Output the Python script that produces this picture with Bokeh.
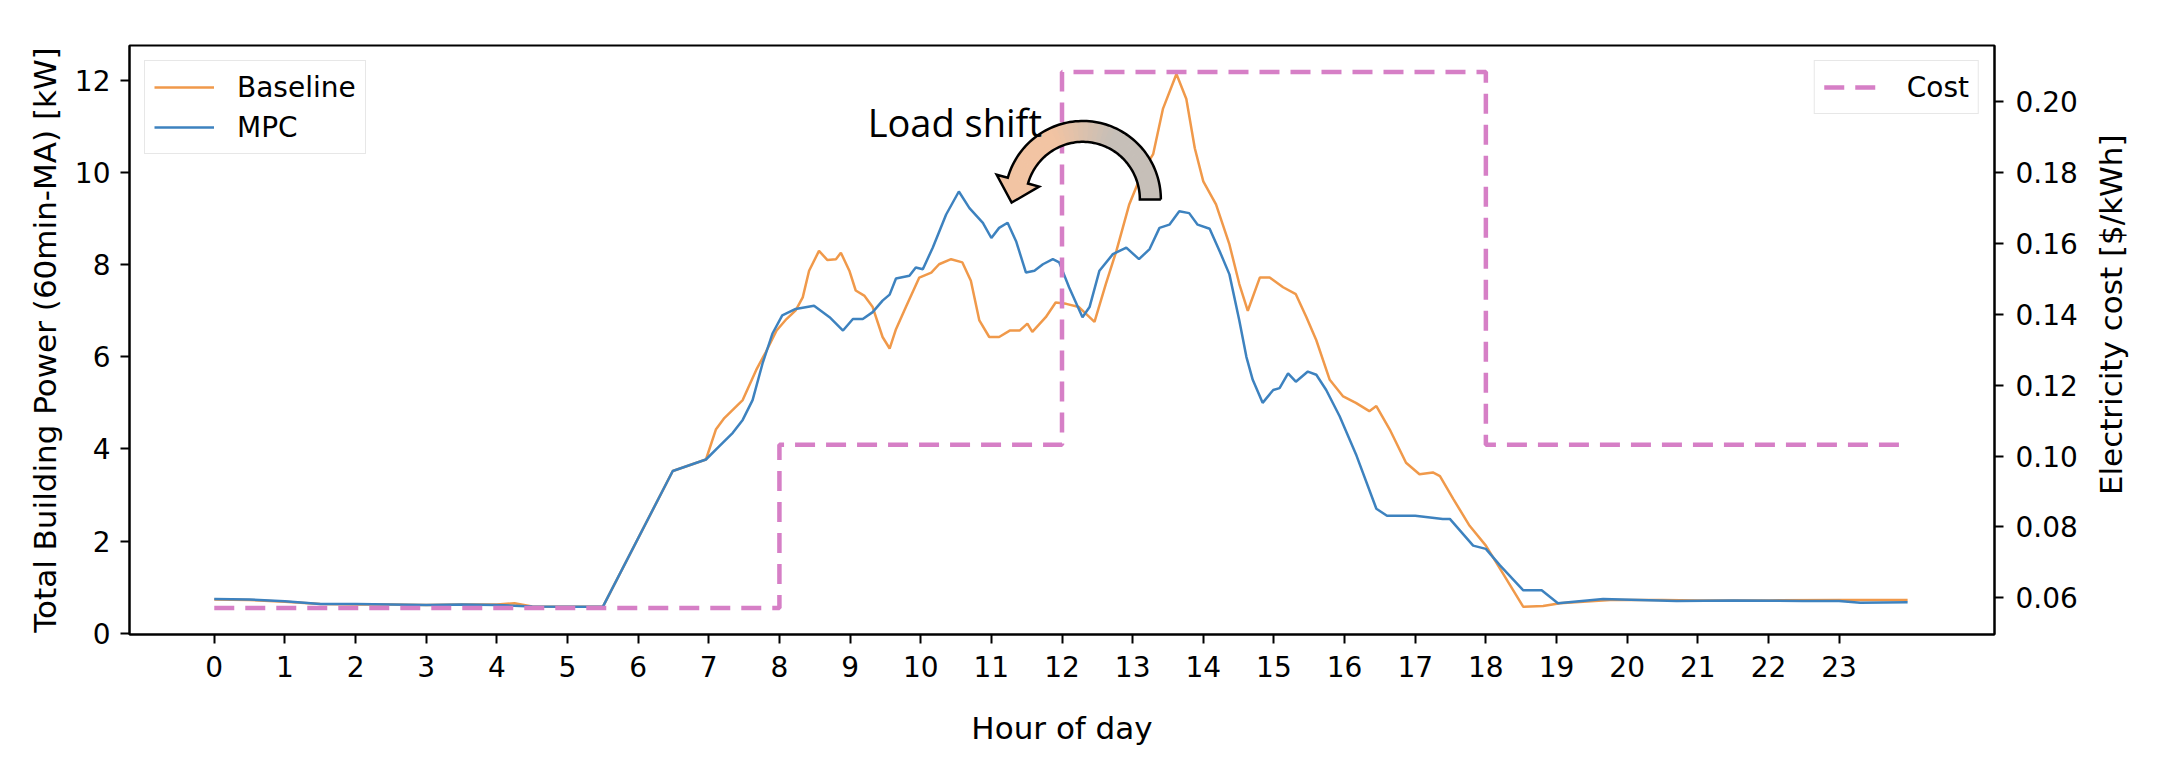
import math
import numpy as np
from bokeh.plotting import figure
from bokeh.layouts import row
from bokeh.models import (Range1d, LinearAxis, Legend, LegendItem, Label,
                          FixedTicker, NumeralTickFormatter)
from bokeh.embed import file_html
from bokeh.resources import INLINE

# ---------------- data ----------------
hours_baseline = [0.0, 0.5, 1.0, 1.5, 2.0, 2.5, 3.0, 3.5, 4.0, 4.25, 4.5, 5.0, 5.5,
                  6.49, 6.96, 7.10, 7.22, 7.48, 7.67, 7.81, 7.96, 8.10, 8.23, 8.33,
                  8.42, 8.56, 8.68, 8.80, 8.87, 8.99, 9.08, 9.20, 9.32, 9.46, 9.56,
                  9.65, 9.79, 9.98, 10.15, 10.26, 10.43, 10.59, 10.71, 10.83, 10.97,
                  11.11, 11.26, 11.40, 11.51, 11.58, 11.77, 11.91, 12.06, 12.24, 12.46,
                  12.62, 12.77, 12.95, 13.14, 13.29, 13.43, 13.62, 13.76, 13.88, 14.00,
                  14.18, 14.37, 14.51, 14.63, 14.80, 14.94, 15.13, 15.31, 15.46, 15.60,
                  15.79, 15.98, 16.16, 16.35, 16.45, 16.64, 16.87, 17.06, 17.25, 17.35,
                  17.54, 17.77, 18.00, 18.20, 18.53, 18.81, 19.05, 19.76, 20.5, 21.0,
                  22.0, 23.0, 23.97]
kw_baseline = [0.73, 0.72, 0.68, 0.63, 0.62, 0.62, 0.61, 0.62, 0.62, 0.65, 0.58, 0.57, 0.57,
               3.52, 3.77, 4.42, 4.67, 5.06, 5.71, 6.11, 6.57, 6.82, 7.01, 7.29,
               7.87, 8.30, 8.10, 8.12, 8.26, 7.87, 7.44, 7.33, 7.08, 6.43, 6.18,
               6.60, 7.08, 7.72, 7.83, 8.01, 8.12, 8.05, 7.65, 6.79, 6.43,
               6.43, 6.57, 6.57, 6.72, 6.54, 6.86, 7.18, 7.15, 7.08, 6.76,
               7.58, 8.30, 9.30, 10.02, 10.40, 11.39, 12.14, 11.60, 10.53, 9.81,
               9.31, 8.44, 7.58, 7.00, 7.72, 7.72, 7.51, 7.36, 6.86, 6.36,
               5.50, 5.14, 5.00, 4.82, 4.93, 4.42, 3.70, 3.45, 3.49, 3.41,
               2.91, 2.33, 1.90, 1.40, 0.57, 0.59, 0.65, 0.72, 0.72, 0.71,
               0.71, 0.72, 0.72]

hours_mpc = [0.0, 0.5, 1.0, 1.5, 2.0, 2.5, 3.0, 3.5, 4.0, 4.5, 5.0, 5.5,
             6.49, 6.96, 7.15, 7.34, 7.48, 7.62, 7.76, 7.90, 8.04, 8.23, 8.49,
             8.71, 8.90, 9.04, 9.18, 9.32, 9.46, 9.56, 9.65, 9.84, 9.93, 10.03,
             10.17, 10.36, 10.54, 10.69, 10.88, 11.00, 11.11, 11.23, 11.35, 11.49,
             11.61, 11.73, 11.87, 11.96, 12.10, 12.29, 12.39, 12.53, 12.72, 12.91,
             13.09, 13.24, 13.38, 13.52, 13.66, 13.80, 13.92, 14.09, 14.23, 14.37,
             14.51, 14.61, 14.70, 14.84, 14.99, 15.08, 15.20, 15.31, 15.48, 15.60,
             15.74, 15.93, 16.17, 16.45, 16.60, 17.00, 17.39, 17.49, 17.82, 18.00,
             18.20, 18.53, 18.79, 19.02, 19.66, 20.7, 21.5, 22.49, 23.0, 23.3, 23.97]
kw_mpc = [0.74, 0.73, 0.69, 0.63, 0.63, 0.62, 0.61, 0.62, 0.61, 0.58, 0.57, 0.57,
          3.52, 3.77, 4.06, 4.35, 4.63, 5.06, 5.85, 6.50, 6.90, 7.04, 7.11,
          6.86, 6.57, 6.82, 6.82, 6.97, 7.22, 7.35, 7.70, 7.76, 7.94, 7.90,
          8.37, 9.09, 9.59, 9.23, 8.91, 8.58, 8.80, 8.91, 8.51, 7.83,
          7.87, 8.01, 8.12, 8.05, 7.51, 6.86, 7.08, 7.87, 8.23, 8.37,
          8.12, 8.34, 8.80, 8.87, 9.16, 9.12, 8.87, 8.78, 8.30, 7.79,
          6.79, 6.00, 5.50, 5.00, 5.28, 5.32, 5.64, 5.46, 5.68, 5.61,
          5.28, 4.71, 3.85, 2.70, 2.55, 2.55, 2.48, 2.48, 1.90, 1.83,
          1.47, 0.93, 0.93, 0.65, 0.74, 0.70, 0.71, 0.70, 0.70, 0.66, 0.67]

cost_hours = [0, 8, 12, 18, 23.95]
cost_rate = [0.0572, 0.1032, 0.2082, 0.1032, 0.1032]

hour_ticks = list(range(24))
kw_ticks = [0, 2, 4, 6, 8, 10, 12]
rate_ticks = [0.06, 0.08, 0.10, 0.12, 0.14, 0.16, 0.18, 0.20]

# ---------------- main figure ----------------
FONT = "DejaVu Sans"
W, H = 2090, 748
p = figure(width=W, height=H, output_backend="svg", toolbar_location=None, title=None,
           x_range=Range1d(-1.2, 25.2), y_range=Range1d(-0.03, 12.76),
           min_border_left=129, min_border_right=96, min_border_top=45,
           min_border_bottom=108)
p.extra_y_ranges = {"cost": Range1d(0.0497, 0.2157)}
p.grid.visible = False
p.outline_line_color = "black"
p.outline_line_width = 2
p.background_fill_color = "white"
p.border_fill_color = "white"

def style_axis(ax):
    ax.axis_line_width = 2
    ax.axis_line_color = "black"
    ax.major_tick_line_width = 2
    ax.major_tick_line_color = "black"
    ax.major_tick_out = 9
    ax.major_tick_in = 0
    ax.minor_tick_line_color = None
    ax.major_label_text_font = FONT
    ax.major_label_text_font_size = "28px"
    ax.major_label_text_color = "black"
    ax.axis_label_text_font = FONT
    ax.axis_label_text_font_size = "31px"
    ax.axis_label_text_font_style = "normal"
    ax.axis_label_text_color = "black"

p.xaxis.ticker = FixedTicker(ticks=hour_ticks)
p.xaxis.axis_label = "Hour of day"
p.yaxis.ticker = FixedTicker(ticks=kw_ticks)
p.yaxis.axis_label = "Total Building Power (60min-MA) [kW]"
style_axis(p.xaxis[0])
style_axis(p.yaxis[0])
p.xaxis.major_label_standoff = 12
p.xaxis.axis_label_standoff = 30
p.yaxis.major_label_standoff = 10
p.yaxis.axis_label_standoff = 9

rax = LinearAxis(y_range_name="cost", ticker=FixedTicker(ticks=rate_ticks),
                 formatter=NumeralTickFormatter(format="0.00"))
style_axis(rax)
rax.major_label_standoff = 12
p.add_layout(rax, "right")

# ---------------- series ----------------
r_base = p.line(hours_baseline, kw_baseline, line_color="#f0994a", line_width=2.5)
r_mpc = p.line(hours_mpc, kw_mpc, line_color="#3d82bf", line_width=2.5)
r_cost = p.step(cost_hours, cost_rate, mode="after", y_range_name="cost",
                line_color="#d67fc6", line_width=4.5, line_dash="20 11")

# ---------------- "Load shift" curved arrow (annotation) ----------------
def to_data(px, py):
    return (np.asarray(px) - 222.0) / 70.6, (645.0 - np.asarray(py)) / 46.4

cx, cy = 1090.0, 208.0
r_out_x, r_out_y, r_in_x, r_in_y = 78.0, 79.0, 57.0, 58.0
th_end = math.radians(164)
gray = np.array([198, 191, 184])
peach = np.array([242, 196, 163])
nseg = 40
ths = np.linspace(0, th_end, nseg + 1)
seg_xs, seg_ys, seg_cols = [], [], []
for i in range(nseg):
    a, b = ths[i], ths[i + 1]
    tt = np.linspace(a, b, 4)
    ox = cx + r_out_x * np.cos(tt); oy = cy - r_out_y * np.sin(tt)
    ix = cx + r_in_x * np.cos(tt[::-1]); iy = cy - r_in_y * np.sin(tt[::-1])
    dx, dy = to_data(np.concatenate([ox, ix]), np.concatenate([oy, iy]))
    seg_xs.append(list(dx)); seg_ys.append(list(dy))
    m = math.degrees((a + b) / 2)
    f = min(max((m - 65) / 50.0, 0), 1)
    c = (gray * (1 - f) + peach * f).astype(int)
    seg_cols.append("#%02x%02x%02x" % tuple(c))
p.patches(seg_xs, seg_ys, fill_color=seg_cols, line_color=seg_cols, line_width=1)

# arrow head
mid_r_x, mid_r_y = (r_out_x + r_in_x) / 2, (r_out_y + r_in_y) / 2
bx = cx + mid_r_x * math.cos(th_end); by = cy - mid_r_y * math.sin(th_end)
tx, ty = -mid_r_x * math.sin(th_end), -mid_r_y * math.cos(th_end)
tn = math.hypot(tx, ty); tx, ty = tx / tn, ty / tn
nx, ny = ty, -tx
wing_out = (bx - nx * 22, by - ny * 22)
wing_in = (bx + nx * 22, by + ny * 22)
tip = (bx + tx * 23, by + ty * 23)
hx, hy = to_data([wing_out[0], tip[0], wing_in[0]], [wing_out[1], tip[1], wing_in[1]])
p.patch(list(hx), list(hy), fill_color="#f2c4a3", line_color="#f2c4a3", line_width=1)

# outline
tt = np.linspace(0, th_end, 80)
ox = list(cx + r_out_x * np.cos(tt)); oy = list(cy - r_out_y * np.sin(tt))
ix = list(cx + r_in_x * np.cos(tt[::-1])); iy = list(cy - r_in_y * np.sin(tt[::-1]))
e_in = (cx + r_in_x * math.cos(th_end), cy - r_in_y * math.sin(th_end))
outline_px = ox + [wing_out[0], tip[0], wing_in[0], e_in[0]] + ix + [ox[0]]
outline_py = oy + [wing_out[1], tip[1], wing_in[1], e_in[1]] + iy + [oy[0]]
lx, ly = to_data(outline_px, outline_py)
p.line(list(lx), list(ly), line_color="black", line_width=2.5, line_join="miter")

lab_x, lab_y = to_data(875, 130)
p.add_layout(Label(x=float(lab_x), y=float(lab_y), text="Load shift",
                   text_font="Open Sans", text_font_size="38px",
                   text_color="black", text_baseline="alphabetic"))

# ---------------- legends ----------------
def style_legend(lg):
    lg.label_text_font = FONT
    lg.label_text_font_size = "28px"
    lg.label_text_color = "black"
    lg.border_line_color = "#d0d0d0"
    lg.border_line_width = 1.5
    lg.background_fill_alpha = 0.85
    lg.glyph_width = 60
    lg.glyph_height = 34
    lg.label_height = 34
    lg.label_standoff = 23
    lg.padding = 9
    lg.spacing = 6
    lg.margin = 15

leg1 = Legend(items=[LegendItem(label="Baseline", renderers=[r_base]),
                     LegendItem(label="MPC", renderers=[r_mpc])],
              location="top_left")
leg2 = Legend(items=[LegendItem(label="Cost", renderers=[r_cost])],
              location="top_right")
style_legend(leg1)
style_legend(leg2)
p.add_layout(leg1)
p.add_layout(leg2)

# ---------------- right-hand axis title (bottom-to-top, like the reference) ----------------
TW = 60
pt = figure(width=TW, height=H, output_backend="svg", toolbar_location=None, title=None,
            x_range=Range1d(0, TW), y_range=Range1d(0, H),
            x_axis_type=None, y_axis_type=None, min_border=0)
pt.outline_line_color = None
pt.grid.visible = False
pt.background_fill_color = "white"
pt.border_fill_color = "white"
pt.add_layout(Label(x=20, y=H - (350 - 8), text="Electricity cost [$/kWh]",
                    angle=math.pi / 2, text_font=FONT, text_font_size="31px",
                    text_color="black", text_align="center", text_baseline="middle"))

layout = row(p, pt, spacing=0)
open("out.html", "w").write(file_html(layout, INLINE))
